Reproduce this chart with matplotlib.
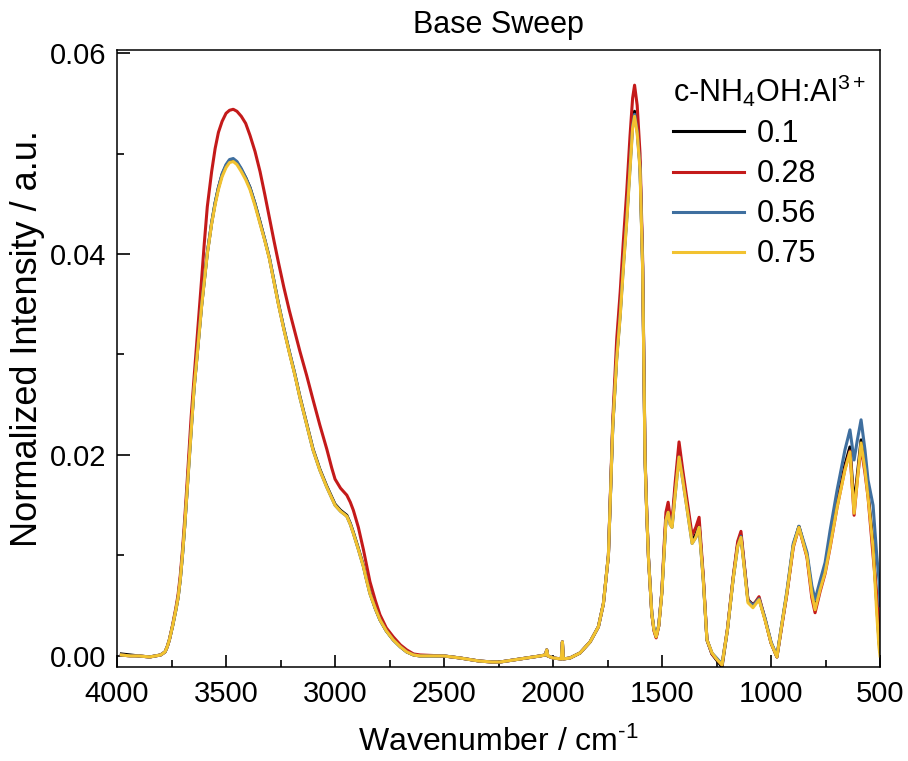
import matplotlib
matplotlib.use("Agg")
import matplotlib.pyplot as plt
from matplotlib.ticker import FormatStrFormatter, MultipleLocator

# wavenumber grid (cm-1) shared by all four spectra
wavenumber = [
    3980, 3940, 3900, 3850, 3800, 3780, 3770,
    3760, 3745, 3730, 3720, 3710, 3700, 3690, 3680, 3670, 3660,
    3647, 3632, 3612, 3600, 3586, 3566, 3550, 3535, 3518, 3500,
    3484, 3467, 3450, 3430, 3410, 3390, 3367, 3344, 3322, 3301,
    3280, 3260, 3235, 3210, 3185, 3161, 3130, 3101, 3070, 3038,
    3015, 3000, 2975, 2946, 2930, 2916, 2893, 2870, 2855, 2840,
    2815, 2794, 2765, 2733, 2700, 2671, 2640, 2610,
    2500, 2427, 2340, 2280, 2243, 2151, 2060, 2035, 2029, 2024,
    2000, 1962, 1957, 1953, 1922, 1876, 1830, 1792, 1769, 1746,
    1726, 1708, 1692, 1678, 1662, 1647, 1635, 1626, 1614, 1601,
    1589, 1583, 1578, 1570, 1562, 1547, 1537, 1527, 1515, 1501,
    1490, 1482, 1472, 1463, 1454, 1440, 1422, 1405, 1387, 1362,
    1345, 1330, 1311, 1294, 1271, 1250, 1225, 1200, 1174, 1153,
    1138, 1120, 1106, 1083, 1055, 1028, 1000, 973, 952, 927,
    898, 872, 835, 813, 798, 775, 752, 729, 697, 661,
    638, 619, 604, 587, 569, 555, 532, 515, 505, 500,
]

ratio_01 = [
    0.0002, 0.0001, 0.0000, -0.0001, 0.0001, 0.0004, 0.0009,
    0.0016, 0.0030, 0.0046, 0.0058, 0.0076, 0.0100, 0.0128, 0.0160, 0.0194, 0.0226,
    0.0266, 0.0301, 0.0349, 0.0373, 0.0401, 0.0431, 0.0451, 0.0466, 0.0479, 0.0488,
    0.0493, 0.0494, 0.0491, 0.0484, 0.0476, 0.0466, 0.0450, 0.0432, 0.0414, 0.0396,
    0.0373, 0.0351, 0.0326, 0.0303, 0.0281, 0.0258, 0.0231, 0.0206, 0.0186, 0.0169,
    0.0158, 0.0151, 0.0145, 0.0140, 0.0132, 0.0123, 0.0107, 0.0090, 0.0076, 0.0063,
    0.0047, 0.0036, 0.0025, 0.0016, 0.0009, 0.0004, 0.0001, 0.0000,
    0.0000, -0.0002, -0.0005, -0.0006, -0.0006, -0.0003, 0.0000, 0.0001, 0.0006, 0.0000,
    -0.0002, -0.0003, 0.0014, -0.0003, -0.0002, 0.0003, 0.0014, 0.0029, 0.0052, 0.0100,
    0.0229, 0.0298, 0.0342, 0.0390, 0.0438, 0.0490, 0.0531, 0.0542, 0.0525, 0.0488,
    0.0388, 0.0288, 0.0197, 0.0141, 0.0097, 0.0042, 0.0026, 0.0019, 0.0030, 0.0063,
    0.0107, 0.0137, 0.0146, 0.0133, 0.0130, 0.0165, 0.0205, 0.0180, 0.0152, 0.0115,
    0.0121, 0.0131, 0.0078, 0.0016, 0.0002, -0.0004, -0.0011, 0.0026, 0.0077, 0.0111,
    0.0120, 0.0084, 0.0056, 0.0051, 0.0057, 0.0037, 0.0013, -0.0001, 0.0029, 0.0063,
    0.0110, 0.0129, 0.0100, 0.0064, 0.0048, 0.0068, 0.0086, 0.0113, 0.0152, 0.0190,
    0.0208, 0.0150, 0.0180, 0.0215, 0.0188, 0.0162, 0.0112, 0.0050, 0.0015, 0.0005,
]

ratio_028 = [
    0.0001, 0.0000, 0.0000, -0.0001, 0.0001, 0.0004, 0.0009,
    0.0016, 0.0031, 0.0048, 0.0061, 0.0080, 0.0105, 0.0135, 0.0168, 0.0203, 0.0238,
    0.0276, 0.0318, 0.0375, 0.0410, 0.0447, 0.0482, 0.0505, 0.0521, 0.0532, 0.0540,
    0.0543, 0.0544, 0.0542, 0.0537, 0.0530, 0.0518, 0.0502, 0.0482, 0.0459, 0.0436,
    0.0413, 0.0392, 0.0367, 0.0344, 0.0323, 0.0303, 0.0279, 0.0255, 0.0230, 0.0206,
    0.0187, 0.0176, 0.0167, 0.0160, 0.0153, 0.0145, 0.0128, 0.0106, 0.0090, 0.0074,
    0.0055, 0.0041, 0.0028, 0.0019, 0.0011, 0.0006, 0.0002, 0.0001,
    0.0000, -0.0002, -0.0005, -0.0006, -0.0006, -0.0003, 0.0000, 0.0001, 0.0006, 0.0000,
    -0.0002, -0.0003, 0.0014, -0.0003, -0.0002, 0.0003, 0.0014, 0.0029, 0.0052, 0.0100,
    0.0235, 0.0315, 0.0362, 0.0411, 0.0462, 0.0517, 0.0555, 0.0568, 0.0548, 0.0500,
    0.0395, 0.0292, 0.0200, 0.0142, 0.0097, 0.0042, 0.0025, 0.0018, 0.0030, 0.0064,
    0.0112, 0.0143, 0.0153, 0.0139, 0.0134, 0.0172, 0.0213, 0.0185, 0.0158, 0.0120,
    0.0128, 0.0138, 0.0080, 0.0016, 0.0002, -0.0003, -0.0009, 0.0027, 0.0078, 0.0114,
    0.0124, 0.0086, 0.0056, 0.0050, 0.0059, 0.0037, 0.0013, -0.0001, 0.0028, 0.0062,
    0.0108, 0.0128, 0.0098, 0.0058, 0.0043, 0.0064, 0.0082, 0.0108, 0.0148, 0.0186,
    0.0204, 0.0140, 0.0176, 0.0208, 0.0182, 0.0158, 0.0100, 0.0060, 0.0030, 0.0020,
]

ratio_056 = [
    0.0001, 0.0000, 0.0000, -0.0001, 0.0001, 0.0004, 0.0009,
    0.0016, 0.0030, 0.0046, 0.0058, 0.0076, 0.0100, 0.0128, 0.0160, 0.0193, 0.0225,
    0.0265, 0.0301, 0.0349, 0.0373, 0.0401, 0.0431, 0.0451, 0.0466, 0.0480, 0.0489,
    0.0494, 0.0495, 0.0492, 0.0485, 0.0476, 0.0466, 0.0450, 0.0431, 0.0414, 0.0396,
    0.0373, 0.0351, 0.0326, 0.0303, 0.0281, 0.0257, 0.0230, 0.0205, 0.0185, 0.0168,
    0.0157, 0.0150, 0.0144, 0.0139, 0.0131, 0.0122, 0.0106, 0.0089, 0.0075, 0.0062,
    0.0047, 0.0036, 0.0025, 0.0016, 0.0009, 0.0004, 0.0001, 0.0000,
    0.0000, -0.0002, -0.0005, -0.0006, -0.0006, -0.0003, 0.0000, 0.0001, 0.0006, 0.0000,
    -0.0002, -0.0003, 0.0014, -0.0003, -0.0002, 0.0003, 0.0014, 0.0029, 0.0052, 0.0100,
    0.0228, 0.0296, 0.0339, 0.0386, 0.0434, 0.0486, 0.0527, 0.0539, 0.0522, 0.0486,
    0.0386, 0.0287, 0.0196, 0.0141, 0.0097, 0.0043, 0.0027, 0.0020, 0.0031, 0.0063,
    0.0105, 0.0135, 0.0143, 0.0131, 0.0128, 0.0160, 0.0198, 0.0175, 0.0149, 0.0112,
    0.0118, 0.0128, 0.0076, 0.0016, 0.0003, -0.0002, -0.0008, 0.0026, 0.0076, 0.0109,
    0.0119, 0.0083, 0.0055, 0.0050, 0.0057, 0.0038, 0.0014, 0.0000, 0.0030, 0.0065,
    0.0112, 0.0129, 0.0103, 0.0070, 0.0056, 0.0075, 0.0093, 0.0125, 0.0165, 0.0205,
    0.0225, 0.0195, 0.0215, 0.0235, 0.0205, 0.0175, 0.0150, 0.0100, 0.0076, 0.0050,
]

ratio_075 = [
    0.0001, 0.0000, 0.0000, -0.0001, 0.0001, 0.0004, 0.0009,
    0.0016, 0.0030, 0.0046, 0.0058, 0.0076, 0.0100, 0.0128, 0.0160, 0.0193, 0.0225,
    0.0265, 0.0300, 0.0348, 0.0372, 0.0400, 0.0430, 0.0449, 0.0464, 0.0477, 0.0486,
    0.0491, 0.0492, 0.0489, 0.0482, 0.0474, 0.0464, 0.0448, 0.0430, 0.0413, 0.0395,
    0.0372, 0.0350, 0.0325, 0.0302, 0.0280, 0.0257, 0.0230, 0.0205, 0.0185, 0.0168,
    0.0157, 0.0150, 0.0144, 0.0139, 0.0131, 0.0122, 0.0106, 0.0089, 0.0075, 0.0062,
    0.0047, 0.0036, 0.0025, 0.0016, 0.0009, 0.0004, 0.0001, 0.0000,
    0.0000, -0.0002, -0.0005, -0.0006, -0.0006, -0.0003, 0.0000, 0.0001, 0.0006, 0.0000,
    -0.0002, -0.0003, 0.0014, -0.0003, -0.0002, 0.0003, 0.0014, 0.0029, 0.0052, 0.0100,
    0.0228, 0.0295, 0.0338, 0.0384, 0.0432, 0.0484, 0.0525, 0.0537, 0.0520, 0.0484,
    0.0384, 0.0285, 0.0195, 0.0140, 0.0096, 0.0042, 0.0026, 0.0019, 0.0030, 0.0062,
    0.0105, 0.0135, 0.0143, 0.0131, 0.0128, 0.0160, 0.0198, 0.0175, 0.0149, 0.0112,
    0.0118, 0.0128, 0.0076, 0.0016, 0.0003, -0.0003, -0.0009, 0.0026, 0.0076, 0.0109,
    0.0118, 0.0082, 0.0053, 0.0048, 0.0056, 0.0036, 0.0013, -0.0001, 0.0029, 0.0063,
    0.0109, 0.0128, 0.0099, 0.0062, 0.0046, 0.0066, 0.0083, 0.0109, 0.0148, 0.0185,
    0.0203, 0.0142, 0.0175, 0.0212, 0.0185, 0.0158, 0.0108, 0.0042, 0.0009, 0.0000,
]

labels = ["0.1", "0.28", "0.56", "0.75"]
colors = ["#000000", "#C41A1A", "#3F6F9F", "#F2C230"]

plt.rcParams["font.family"] = ["Liberation Sans", "DejaVu Sans"]
plt.rcParams["mathtext.fontset"] = "custom"
plt.rcParams["mathtext.rm"] = "Liberation Sans"
plt.rcParams["mathtext.it"] = "Liberation Sans"

fig = plt.figure(figsize=(9.08, 7.61), dpi=100)
ax = fig.add_axes([0.1289, 0.1235, 0.8403, 0.8108])

for values, label, color in zip([ratio_01, ratio_028, ratio_056, ratio_075], labels, colors):
    ax.plot(wavenumber, values, color=color, lw=2.2, label=label)

ax.set_xlim(4000, 500)
ax.set_ylim(-0.0011, 0.0603)
ax.xaxis.set_major_locator(MultipleLocator(500))
ax.xaxis.set_minor_locator(MultipleLocator(250))
ax.yaxis.set_major_locator(MultipleLocator(0.02))
ax.yaxis.set_minor_locator(MultipleLocator(0.01))
ax.yaxis.set_major_formatter(FormatStrFormatter("%.2f"))
ax.tick_params(which="both", direction="in", top=False, right=False, width=1.2)
ax.tick_params(which="major", length=9, labelsize=21)
ax.tick_params(which="minor", length=5)
ax.tick_params(axis="x", pad=9)
ax.tick_params(axis="y", pad=8)
for spine in ax.spines.values():
    spine.set_linewidth(1.1)

ax.set_xlabel(r"Wavenumber / cm$^{\text{-1}}$", fontsize=23, labelpad=14)
ax.set_ylabel("Normalized Intensity / a.u.", fontsize=26, labelpad=3, y=0.533)
ax.set_title("Base Sweep", fontsize=22, pad=12)

ax.legend(title="c-NH$_4$OH:Al$^{3+}$", loc="upper left", bbox_to_anchor=(0.709, 0.988),
          frameon=False, fontsize=22, title_fontsize=22, handlelength=2.3,
          handletextpad=0.42, labelspacing=0.33, borderpad=0, alignment="left")

fig.savefig("out.png", dpi=100)
